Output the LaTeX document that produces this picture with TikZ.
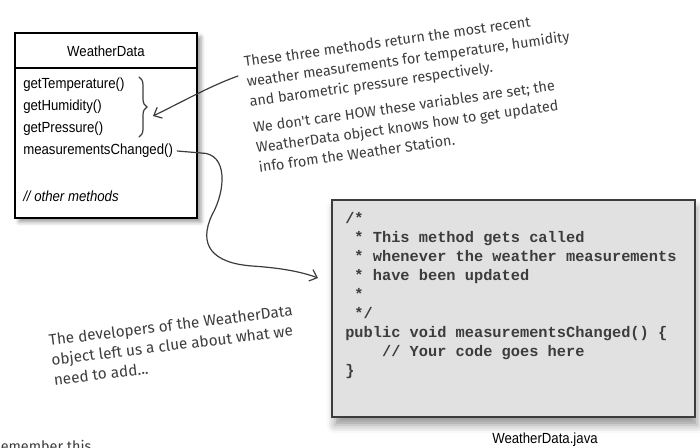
\documentclass[tikz,border=0pt]{standalone}
\usepackage{fontspec}
\setmainfont{Liberation Sans}
\setmonofont{Liberation Mono}
\newfontfamily\umlfont[FakeStretch=0.9]{Liberation Sans}
\newfontfamily\handfont{Fira Sans}
\usetikzlibrary{arrows.meta,decorations.pathreplacing,shadows.blur,positioning}
\definecolor{ink}{HTML}{3C3C3C}
\definecolor{codegray}{HTML}{E1E1E1}
\begin{document}
\begin{tikzpicture}[x=0.75pt,y=-0.75pt,
  method/.style={anchor=west,inner sep=0pt,font=\umlfont\fontsize{11}{13}\selectfont},
  note/.style={align=left,inner sep=0pt,text=ink,font=\handfont\fontsize{10.8}{15}\selectfont},
  pen/.style={draw=ink,line width=0.9pt,line cap=round},
  barb/.style={-{Straight Barb[length=5pt,width=9pt]}}]
  \useasboundingbox (0,0) rectangle (700,448);
  \clip (0,0) rectangle (700,448);
  % class box
  \draw[fill=white,line width=0.9pt,blur shadow={shadow xshift=3pt,shadow yshift=-3pt,shadow blur radius=3pt}] (15,33) rectangle (197,218);
  \draw[line width=0.9pt] (15,68) -- (197,68);
  \node[font=\umlfont\fontsize{11}{13}\selectfont] (title) at (106,51) {WeatherData};
  \node[method] (getTemp) at (23,85) {getTemperature()};
  \node[method] (getHum) at (23,107) {getHumidity()};
  \node[method] (getPres) at (23,129) {getPressure()};
  \node[method] (mChanged) at (23,151) {measurementsChanged()};
  \node[method] (otherM) at (23,196) {\itshape // other methods};
  % brace + arrow from the notes
  \draw[pen,decorate,decoration={brace,amplitude=6pt}] (139,77) -- (139,137);
  \coordinate (braceTip) at (153,116);
  \coordinate (noteStart) at (238,76);
  \draw[pen,barb] (noteStart) .. controls (210,86) and (182,102) .. (braceTip);
  \node[note,rotate=8,anchor=north west] (notes) at (243,56) {These three methods return the most recent\\weather measurements for temperature, humidity\\and barometric pressure respectively.\\[5pt]We don't care HOW these variables are set; the\\WeatherData object knows how to get updated\\info from the Weather Station.};
  % code listing
  \node[draw=ink,fill=codegray,line width=1.5pt,minimum width=272pt,minimum height=163pt,anchor=north west,inner sep=0pt,
    blur shadow={shadow xshift=2pt,shadow yshift=-6pt,shadow blur radius=6pt}] (code) at (331,199) {};
  \node[anchor=north west,inner sep=0pt,align=left,text=ink,font=\ttfamily\bfseries\fontsize{11.5}{14.25}\selectfont] (codeText) at (345,212)
    {/*\\\ * This method gets called\\\ * whenever the weather measurements\\\ * have been updated\\\ *\\\ */\\public void measurementsChanged() \{\\\ \ \ \ // Your code goes here\\\}};
  \node[font=\umlfont\fontsize{11}{13}\selectfont] (fileName) at (545,440) {WeatherData.java};
  \coordinate (codeIn) at (318,278);
  \draw[pen,barb] ([xshift=3pt]mChanged.east) -- (201,153) .. controls (228,153) and (226,190) .. (212,215)
    .. controls (198,245) and (212,263) .. (252,266) .. controls (282,268) and (302,272) .. (codeIn);
  \node[note,rotate=7,anchor=north west,font=\handfont\fontsize{11.5}{15}\selectfont] (devNote) at (48,334) {The developers of the WeatherData\\object left us a clue about what we\\need to add...};
  \node[note,anchor=north west] (remember) at (-8,440) {Remember this};
\end{tikzpicture}
\end{document}
